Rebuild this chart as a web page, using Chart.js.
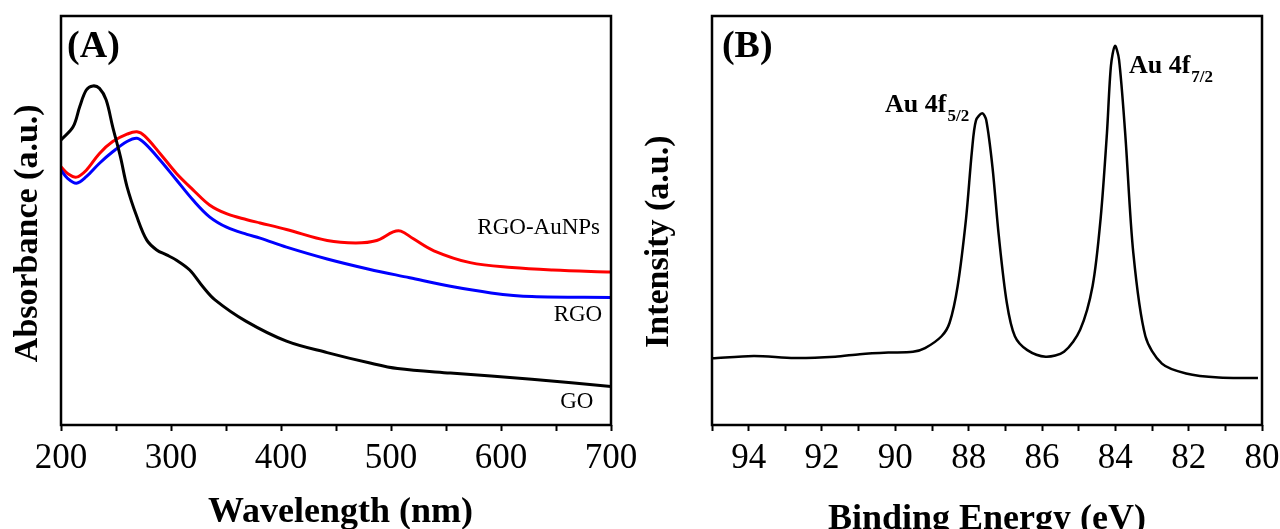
<!DOCTYPE html>
<html>
<head>
<meta charset="utf-8">
<script src="https://cdn.jsdelivr.net/npm/chart.js@4.4.1/dist/chart.umd.min.js"></script>
<style>
  html, body { margin: 0; padding: 0; background: #fff; }
  #wrap { position: relative; width: 1280px; height: 529px; }
  .panel { position: absolute; top: 0; width: 640px; height: 529px; }
  #pa { left: 0; }
  #pb { left: 640px; }
</style>
</head>
<body>
<div id="wrap">
  <div class="panel" id="pa"><canvas id="chartA" width="640" height="529"></canvas></div>
  <div class="panel" id="pb"><canvas id="chartB" width="640" height="529"></canvas></div>
</div>
<script>
// ---------- panel A : UV-vis absorbance ----------
const goWl  = [200, 211, 217, 223, 229, 235, 241, 247, 254, 260, 269, 278, 287, 296, 305, 317, 329, 340, 368, 405, 442, 480, 506, 554, 628, 700];
const goAbs = [69.7, 72.9, 77.8, 81.9, 82.9, 82.3, 79.5, 72.9, 65.6, 58.3, 50.9, 45.2, 42.8, 41.6, 40.3, 37.9, 33.8, 30.6, 25.4, 20.5, 17.7, 15.2, 13.8, 12.7, 11.2, 9.4];

const rgoWl  = [200, 206, 214, 223, 235, 247, 260, 269, 276, 290, 305, 320, 335, 351, 369, 381, 405, 442, 480, 517, 554, 591, 628, 700];
const rgoAbs = [62.3, 60.3, 59.1, 60.7, 64.0, 66.8, 69.3, 70.1, 68.9, 64.8, 59.9, 55.0, 50.9, 48.3, 46.6, 45.7, 43.5, 40.6, 38.1, 36.0, 33.9, 32.3, 31.4, 31.2];

const auWl  = [200, 206, 214, 223, 235, 247, 260, 269, 276, 290, 305, 320, 335, 351, 369, 381, 405, 442, 468, 487, 502, 509, 520, 539, 572, 610, 647, 700];
const auAbs = [63.1, 61.5, 60.6, 62.3, 66.4, 69.3, 71.1, 71.7, 70.7, 66.4, 61.5, 57.5, 53.8, 51.6, 50.2, 49.4, 47.8, 45.1, 44.5, 45.1, 47.2, 47.4, 45.6, 42.6, 39.7, 38.5, 37.9, 37.4];

const wlTicks = [200, 300, 400, 500, 600, 700];

// ---------- panel B : XPS Au 4f ----------
const beEv = [95, 93.86, 92.75, 91.64, 90.97, 90.19, 89.52, 89.19, 88.74, 88.52, 88.3, 88.07, 87.91, 87.8, 87.63, 87.52, 87.35, 87.18, 86.96, 86.74, 86.4, 85.9, 85.4, 84.96, 84.62, 84.4, 84.23, 84.12, 84.01, 83.9, 83.73, 83.51, 83.18, 82.73, 82.07, 81.18, 80.11];
const beInt = [16.3, 16.9, 16.4, 16.7, 17.3, 17.7, 17.9, 18.8, 21.7, 25.0, 34.0, 50.6, 67.1, 74.5, 76.2, 74.5, 63.0, 46.4, 29.9, 21.7, 18.3, 16.7, 17.9, 23.3, 34.0, 50.6, 71.2, 87.8, 92.7, 89.4, 71.2, 42.1, 21.7, 15.0, 12.6, 11.6, 11.5];

const beTicks = [94, 92, 90, 88, 86, 84, 82, 80];

const serif = "'Liberation Serif', 'Times New Roman', serif";
Chart.defaults.color = '#000';
Chart.defaults.font.family = serif;

const toPoints = (xs, ys) => xs.map((x, i) => ({ x, y: ys[i] }));

// ----------- PLUGINS -----------
// box around the plot area
const frameBox = {
  id: 'frameBox',
  afterDatasetsDraw(chart) {
    const { ctx, chartArea: a } = chart;
    ctx.save();
    ctx.strokeStyle = '#000';
    ctx.lineWidth = 2.5;
    ctx.strokeRect(a.left, a.top, a.right - a.left, a.bottom - a.top);
    ctx.restore();
  }
};

// text labels placed in data coordinates
const textLabels = {
  id: 'textLabels',
  afterDraw(chart, args, opts) {
    const { ctx, scales } = chart;
    (opts.items || []).forEach(it => {
      const x = scales.x.getPixelForValue(it.x);
      const y = scales.y.getPixelForValue(it.y);
      ctx.save();
      ctx.fillStyle = '#000';
      ctx.font = it.font;
      ctx.textAlign = it.align || 'left';
      ctx.textBaseline = it.baseline || 'alphabetic';
      ctx.fillText(it.text, x, y);
      if (it.sub) {
        const w = ctx.measureText(it.text).width;
        ctx.font = it.subFont;
        ctx.textAlign = 'left';
        ctx.fillText(it.sub, x + w + 1, y + it.subDrop);
      }
      ctx.restore();
    });
  }
};

function xAxis(min, max, step, labels, reverse, title, titlePad) {
  return {
    type: 'linear',
    min, max, reverse,
    // fixed box: the plot area is set by layout padding, not by label overflow
    afterFit: s => { s.height = 104; s.paddingLeft = 0; s.paddingRight = 0; },
    border: { display: false },
    grid: { drawOnChartArea: false, drawTicks: true, tickLength: 6, tickWidth: 2, color: '#000' },
    ticks: {
      stepSize: step,
      autoSkip: false,
      maxRotation: 0,
      padding: 7,
      font: { size: 35, family: serif },
      callback: v => labels.includes(v) ? String(v) : ''
    },
    title: {
      display: true, text: title,
      font: { size: 36, weight: 'bold', family: serif, lineHeight: 1 },
      padding: { top: 0, bottom: titlePad }
    }
  };
}

function yAxis(width, title, titlePad) {
  return {
    min: 0, max: 100,
    afterFit: s => { s.width = width; },
    border: { display: false },
    grid: { display: false },
    ticks: { display: false },
    title: {
      display: true, text: title,
      font: { size: 34, weight: 'bold', family: serif, lineHeight: 1 },
      padding: { top: titlePad, bottom: 0 }
    }
  };
}

const lineStyle = { borderWidth: 3, pointRadius: 0, tension: 0.35, fill: false };

// ----------- CHART A -----------
new Chart(document.getElementById('chartA'), {
  type: 'line',
  data: {
    datasets: [
      { label: 'GO', data: toPoints(goWl, goAbs), borderColor: '#000', ...lineStyle },
      { label: 'RGO', data: toPoints(rgoWl, rgoAbs), borderColor: '#0000ff', ...lineStyle },
      { label: 'RGO-AuNPs', data: toPoints(auWl, auAbs), borderColor: '#ff0000', ...lineStyle }
    ]
  },
  options: {
    responsive: false,
    animation: false,
    devicePixelRatio: 1,
    layout: { padding: { top: 16, right: 29, left: 0, bottom: 0 } },
    plugins: {
      legend: { display: false },
      tooltip: { enabled: false },
      textLabels: {
        items: [
          { text: '(A)', x: 205.5, y: 92.4, font: `bold 38px ${serif}`, baseline: 'middle' },
          { text: 'RGO-AuNPs', x: 690, y: 48.2, font: `23px ${serif}`, align: 'right', baseline: 'middle' },
          { text: 'RGO', x: 692, y: 26.9, font: `23px ${serif}`, align: 'right', baseline: 'middle' },
          { text: 'GO', x: 684, y: 5.6, font: `23px ${serif}`, align: 'right', baseline: 'middle' }
        ]
      }
    },
    scales: {
      x: xAxis(200, 700, 50, wlTicks, false, ' Wavelength (nm)', -2),
      y: yAxis(61, 'Absorbance (a.u.)   ', 11)
    }
  },
  plugins: [frameBox, textLabels]
});

// ----------- CHART B -----------
new Chart(document.getElementById('chartB'), {
  type: 'line',
  data: {
    datasets: [
      { label: 'Au 4f', data: toPoints(beEv, beInt), borderColor: '#000', ...lineStyle, borderWidth: 2.5, tension: 0.3 }
    ]
  },
  options: {
    responsive: false,
    animation: false,
    devicePixelRatio: 1,
    layout: { padding: { top: 16, right: 18, left: 0, bottom: 0 } },
    plugins: {
      legend: { display: false },
      tooltip: { enabled: false },
      textLabels: {
        items: [
          { text: '(B)', x: 94.73, y: 92.4, font: `bold 38px ${serif}`, baseline: 'middle' },
          { text: 'Au 4f', x: 90.28, y: 76.5, font: `bold 26px ${serif}`, sub: '5/2', subFont: `bold 17px ${serif}`, subDrop: 9 },
          { text: 'Au 4f', x: 83.63, y: 86.1, font: `bold 26px ${serif}`, sub: '7/2', subFont: `bold 17px ${serif}`, subDrop: 9 }
        ]
      }
    },
    scales: {
      x: xAxis(80, 95, 1, beTicks, true, 'Binding Energy (eV)', -9),
      y: yAxis(72, 'Intensity (a.u.)     ', 2)
    }
  },
  plugins: [frameBox, textLabels]
});
</script>
</body>
</html>
